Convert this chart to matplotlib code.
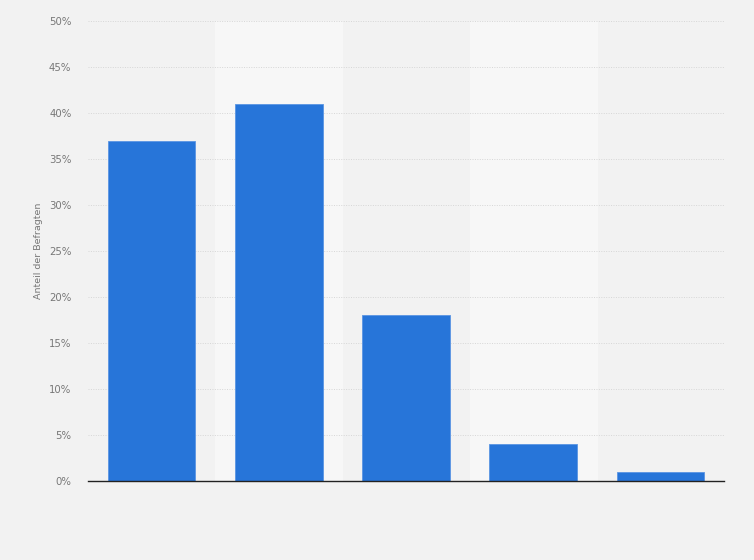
import matplotlib.pyplot as plt
from matplotlib.ticker import FuncFormatter

# Anteil der Befragten pro Kategorie (in %)
categories = ["1", "2", "3", "4", "5"]
values = [37, 41, 18, 4, 1]
yticks = [0, 5, 10, 15, 20, 25, 30, 35, 40, 45, 50]

fig = plt.figure(figsize=(7.54, 5.6), dpi=100, facecolor="#f2f2f2")
ax = fig.add_axes([88 / 754, 1 - 481 / 560, 636 / 754, 460 / 560])
ax.set_facecolor("#f2f2f2")

x = range(len(categories))
# hellere Streifen hinter jeder zweiten Spalte
for i in x:
    if i % 2 == 1:
        ax.axvspan(i - 0.5, i + 0.5, color="#f7f7f7", zorder=0)

ax.bar(x, values, width=0.69, color="#2775d9", edgecolor="#5a95e3", linewidth=0.6, zorder=3)

ax.set_xlim(-0.5, len(categories) - 0.5)
ax.set_ylim(0, 50)
ax.set_yticks(yticks)
ax.yaxis.set_major_formatter(FuncFormatter(lambda v, p: f"{v:.0f}%"))
ax.set_xticks([])
ax.grid(axis="y", color="#d6d6d6", linestyle=(0, (1, 1.5)), linewidth=0.7, zorder=1)
ax.tick_params(axis="y", length=0, labelsize=7.3, labelcolor="#777777", pad=12)

for s in ["top", "right", "left"]:
    ax.spines[s].set_visible(False)
ax.spines["bottom"].set_color("#222222")
ax.spines["bottom"].set_linewidth(1.0)
ax.spines["bottom"].set_zorder(4)

ax.set_ylabel("Anteil der Befragten", fontsize=6.8, color="#777777", labelpad=4)

fig.savefig("out.png", dpi=100, facecolor=fig.get_facecolor())
